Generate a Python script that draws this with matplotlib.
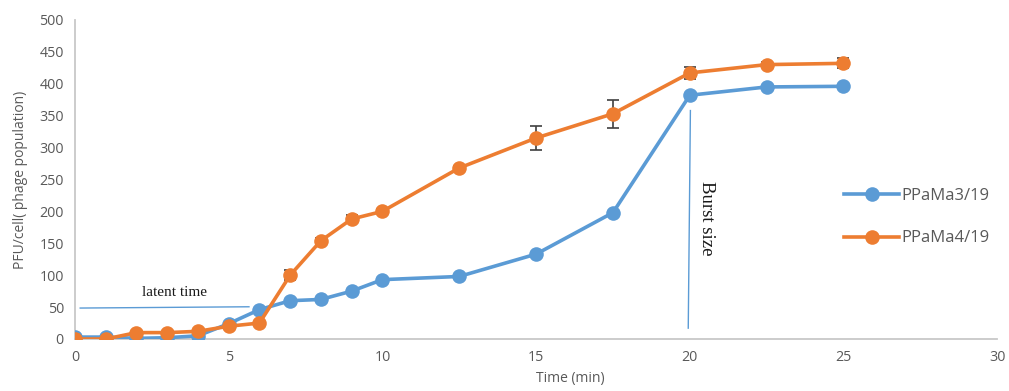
import matplotlib
matplotlib.use("Agg")
import matplotlib.pyplot as plt

# One-step growth curve of two phages
time_min = [0, 1, 2, 3, 4, 5, 6, 7, 8, 9, 10, 12.5, 15, 17.5, 20, 22.5, 25]
ppama3 = [3, 3, 1, 2, 5, 24, 46, 60, 62, 75, 93, 98, 133, 198, 382, 395, 396]
ppama4 = [0, 0, 10, 10, 12, 20, 25, 100, 154, 188, 200, 268, 315, 353, 417, 430, 432]
ppama3_err = [0, 0, 0, 0, 0, 0, 0, 0, 0, 0, 0, 0, 0, 0, 0, 0, 0]
ppama4_err = [0, 0, 0, 0, 0, 0, 0, 8, 5, 6, 3, 3, 19, 22, 10, 4, 8]

series_names = ["PPaMa3/19", "PPaMa4/19"]
x_ticks = [0, 5, 10, 15, 20, 25, 30]
y_ticks = [0, 50, 100, 150, 200, 250, 300, 350, 400, 450, 500]

blue = "#5B9BD5"
orange = "#ED7D31"
grey_text = "#595959"

fig = plt.figure(figsize=(10.09, 3.91), dpi=100)
ax = fig.add_axes([0.0743, 0.133, 0.914, 0.816])

for y, err, col, name in [(ppama3, ppama3_err, blue, series_names[0]),
                          (ppama4, ppama4_err, orange, series_names[1])]:
    ax.errorbar(time_min, y, yerr=err, fmt="none", ecolor="#404040",
                elinewidth=1.2, capsize=4, capthick=1.2, zorder=2)
    ax.plot(time_min, y, color=col, lw=2.6, marker="o", markersize=10.5,
            markeredgewidth=0, label=name, zorder=3)

# Annotation lines
ax.plot([0.17, 5.66], [48.5, 50.5], color=blue, lw=1.0, zorder=1)
ax.text(3.25, 62, "latent time", family="Liberation Serif", fontsize=11,
        ha="center", va="bottom", color="#1a1a1a")
ax.plot([20.02, 19.95], [358, 17], color=blue, lw=1.0, zorder=1)
ax.text(20.55, 190, "Burst size", family="Liberation Serif", fontsize=13.5,
        rotation=270, ha="center", va="center", color="#1a1a1a")

ax.set_xlim(0, 30)
ax.set_ylim(0, 500)
ax.set_xticks(x_ticks)
ax.set_yticks(y_ticks)
ax.tick_params(length=0, labelsize=10.3, colors=grey_text, pad=8)
for lab in ax.get_xticklabels() + ax.get_yticklabels():
    lab.set_family("Open Sans")
for s in ["top", "right"]:
    ax.spines[s].set_visible(False)
for s in ["left", "bottom"]:
    ax.spines[s].set_color("#c8c8c8")
    ax.spines[s].set_linewidth(1.3)

ax.set_xlabel("Time (min)", family="Open Sans", fontsize=10, color=grey_text)
ax.xaxis.set_label_coords(0.537, -0.10)
ax.set_ylabel("PFU/cell( phage population)", family="Open Sans", fontsize=10,
              color=grey_text, labelpad=8)

leg = ax.legend(loc="center left", bbox_to_anchor=(0.818, 0.382), frameon=False,
                handlelength=3.3, labelspacing=1.6,
                prop={"family": "Open Sans", "size": 12}, handletextpad=0.15)
for t in leg.get_texts():
    t.set_color(grey_text)

fig.savefig("out.png", dpi=100)
